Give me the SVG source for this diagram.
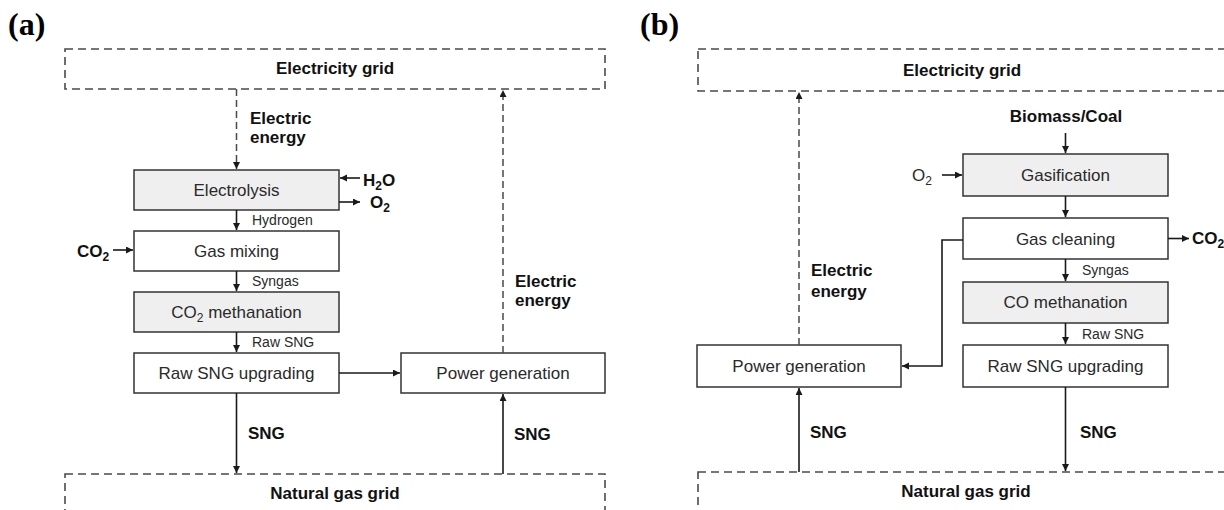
<svg xmlns="http://www.w3.org/2000/svg" width="1224" height="510" viewBox="0 0 1224 510">
<defs>
<marker id="ah" markerUnits="userSpaceOnUse" markerWidth="8" markerHeight="8" refX="7" refY="3.5" orient="auto">
<path d="M0,0 L7,3.5 L0,7 z" fill="#1a1a1a"/>
</marker>
<style>
.bg{fill:#ffffff}
.grid{fill:none;stroke:#4a4a4a;stroke-width:1.6;stroke-dasharray:8 5}
.box{fill:#ffffff;stroke:#333333;stroke-width:1.5}
.gray{fill:#efefef}
.line{fill:none;stroke:#1a1a1a;stroke-width:1.6;marker-end:url(#ah)}
.dash{fill:none;stroke:#4a4a4a;stroke-width:1.5;stroke-dasharray:7 4;marker-end:url(#ah)}
.t{font-family:"Liberation Sans",Arial,sans-serif;font-size:17px;fill:#2a2a2a;text-anchor:middle}
.b{font-family:"Liberation Sans",Arial,sans-serif;font-size:17px;font-weight:bold;fill:#111111}
.bm{text-anchor:middle}
.s{font-family:"Liberation Sans",Arial,sans-serif;font-size:14px;fill:#2a2a2a}
.lab{font-family:"Liberation Serif","Times New Roman",serif;font-size:32px;font-weight:bold;fill:#000000}
</style>
</defs>
<rect class="bg" x="0" y="0" width="1224" height="510"/>

<text class="lab" x="8" y="35">(a)</text>
<text class="lab" x="640" y="35">(b)</text>

<!-- Panel (a) -->
<g id="a-electricity-grid">
<rect class="grid" x="65" y="49" width="540" height="40"/>
<text class="b bm" x="335" y="74">Electricity grid</text>
</g>
<g id="a-natural-gas-grid">
<rect class="grid" x="65" y="474" width="540" height="60"/>
<text class="b bm" x="335" y="499">Natural gas grid</text>
</g>
<g id="a-electrolysis">
<rect class="box gray" x="134" y="170" width="205" height="40"/>
<text class="t" x="236.5" y="196">Electrolysis</text>
</g>
<g id="a-gas-mixing">
<rect class="box" x="134" y="231" width="205" height="40"/>
<text class="t" x="236.5" y="257">Gas mixing</text>
</g>
<g id="a-co2-methanation">
<rect class="box gray" x="134" y="292" width="205" height="40"/>
<text class="t" x="236.5" y="318">CO<tspan font-size="12" dy="4">2</tspan><tspan dy="-4"> methanation</tspan></text>
</g>
<g id="a-raw-sng-upgrading">
<rect class="box" x="134" y="353" width="205" height="40"/>
<text class="t" x="236.5" y="379">Raw SNG upgrading</text>
</g>
<g id="a-power-generation">
<rect class="box" x="401" y="353" width="204" height="40"/>
<text class="t" x="503" y="379">Power generation</text>
</g>

<!-- Panel (b) -->
<g id="b-electricity-grid">
<rect class="grid" x="698" y="49" width="600" height="42"/>
<text class="b bm" x="962" y="76">Electricity grid</text>
</g>
<g id="b-natural-gas-grid">
<rect class="grid" x="698" y="472" width="600" height="60"/>
<text class="b bm" x="966" y="497">Natural gas grid</text>
</g>
<g id="b-gasification">
<rect class="box gray" x="963" y="154" width="205" height="42"/>
<text class="t" x="1065.5" y="181">Gasification</text>
</g>
<g id="b-gas-cleaning">
<rect class="box" x="963" y="218" width="205" height="41"/>
<text class="t" x="1065.5" y="245">Gas cleaning</text>
</g>
<g id="b-co-methanation">
<rect class="box gray" x="963" y="282" width="205" height="41"/>
<text class="t" x="1065.5" y="308">CO methanation</text>
</g>
<g id="b-raw-sng-upgrading">
<rect class="box" x="963" y="345" width="205" height="42"/>
<text class="t" x="1065.5" y="372">Raw SNG upgrading</text>
</g>
<g id="b-power-generation">
<rect class="box" x="697" y="345" width="204" height="42"/>
<text class="t" x="799" y="372">Power generation</text>
</g>

<!-- Connectors -->
<g id="connectors">
<path class="dash" d="M236.5,89 V169"/>
<path class="line" d="M360,178 H340"/>
<path class="line" d="M339,202 H360"/>
<path class="line" d="M236.5,210 V230"/>
<path class="line" d="M113,250 H133"/>
<path class="line" d="M236.5,271 V291"/>
<path class="line" d="M236.5,332 V352"/>
<path class="line" d="M339,373 H400"/>
<path class="dash" d="M503,353 V90"/>
<path class="line" d="M236.5,393 V473"/>
<path class="line" d="M503,474 V394"/>

<path class="line" d="M1065.5,133 V153"/>
<path class="line" d="M942,175 H962"/>
<path class="line" d="M1065.5,196 V217"/>
<path class="line" d="M1168,238.5 H1189"/>
<path class="line" d="M963,240 H942 V366 H902"/>
<path class="line" d="M1065.5,259 V281"/>
<path class="line" d="M1065.5,323 V344"/>
<path class="dash" d="M799,345 V92"/>
<path class="line" d="M799,472 V388"/>
<path class="line" d="M1065.5,387 V471"/>
</g>

<!-- Labels -->
<g id="labels">
<text class="b" x="250" y="124">Electric</text>
<text class="b" x="250" y="143">energy</text>
<text class="b" x="363" y="186">H<tspan font-size="12" dy="4">2</tspan><tspan dy="-4">O</tspan></text>
<text class="b" x="370" y="208">O<tspan font-size="12" dy="4">2</tspan></text>
<text class="b" x="77" y="257">CO<tspan font-size="12" dy="4">2</tspan></text>
<text class="s" x="252" y="225">Hydrogen</text>
<text class="s" x="252" y="286">Syngas</text>
<text class="s" x="252" y="347">Raw SNG</text>
<text class="b" x="515" y="287">Electric</text>
<text class="b" x="515" y="306">energy</text>
<text class="b" x="248" y="439">SNG</text>
<text class="b" x="514" y="440">SNG</text>

<text class="b bm" x="1066" y="122">Biomass/Coal</text>
<text class="t" x="922" y="181">O<tspan font-size="12" dy="4">2</tspan></text>
<text class="b" x="1192" y="244">CO<tspan font-size="12" dy="4">2</tspan></text>
<text class="s" x="1082" y="275">Syngas</text>
<text class="s" x="1082" y="339">Raw SNG</text>
<text class="b" x="811" y="276">Electric</text>
<text class="b" x="811" y="297">energy</text>
<text class="b" x="810" y="438">SNG</text>
<text class="b" x="1080" y="438">SNG</text>
</g>
</svg>
